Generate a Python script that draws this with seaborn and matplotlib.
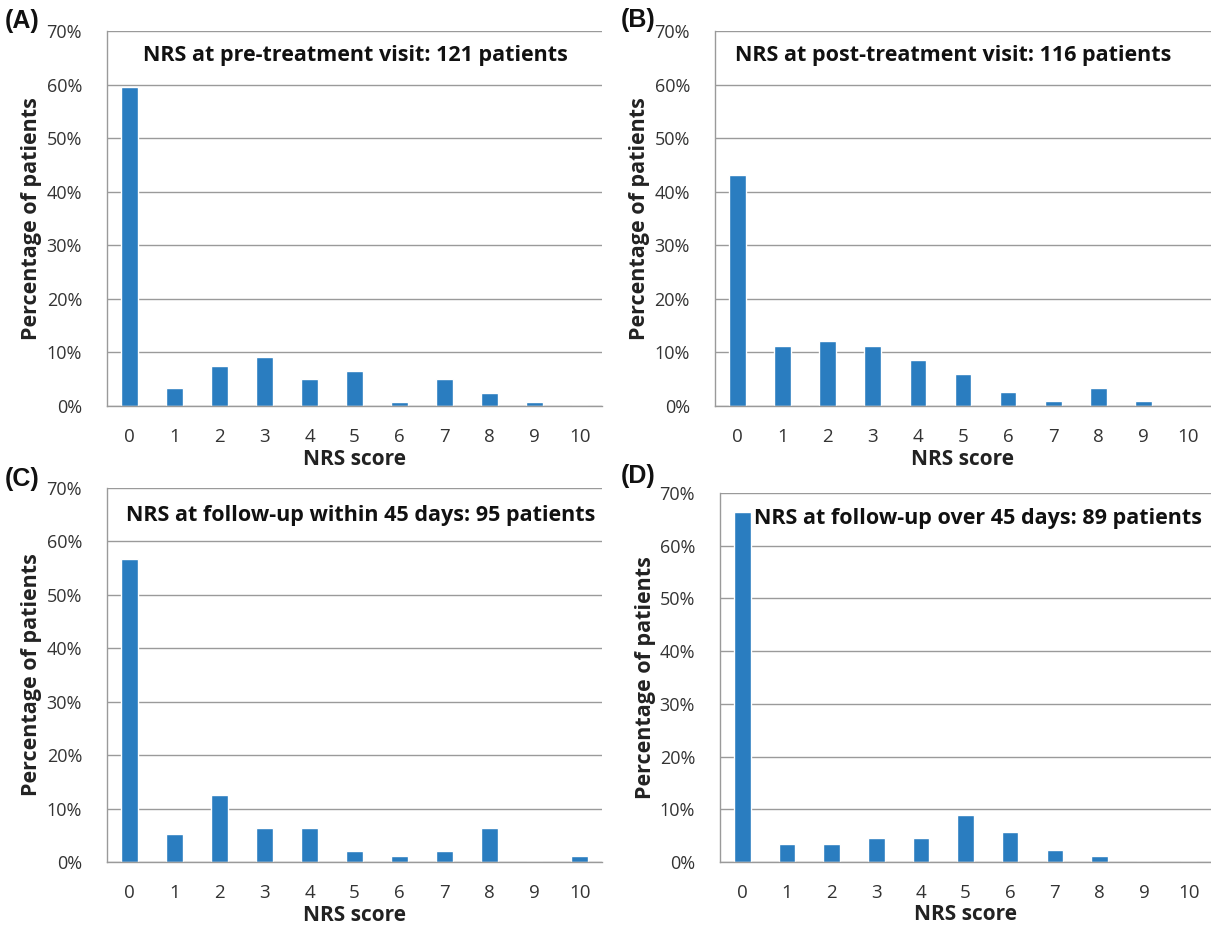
import matplotlib.pyplot as plt
import pandas as pd
import seaborn as sns
from matplotlib.ticker import PercentFormatter

# NRS scores and percentage of patients at each visit
scores = list(range(11))
pre_treatment = [59.5, 3.3, 7.4, 9.1, 5.0, 6.6, 0.8, 5.0, 2.5, 0.8, 0.0]
post_treatment = [43.1, 11.2, 12.1, 11.2, 8.6, 6.0, 2.6, 0.9, 3.4, 0.9, 0.0]
follow_within_45 = [56.8, 5.3, 12.6, 6.3, 6.3, 2.1, 1.1, 2.1, 6.3, 0.0, 1.1]
follow_over_45 = [66.3, 3.4, 3.4, 4.5, 4.5, 9.0, 5.6, 2.2, 1.1, 0.0, 0.0]

titles = ['NRS at pre-treatment visit: 121 patients',
          'NRS at post-treatment visit: 116 patients',
          'NRS at follow-up within 45 days: 95 patients',
          'NRS at follow-up over 45 days: 89 patients']
letters = ['(A)', '(B)', '(C)', '(D)']

sns.set_style('white')
plt.rcParams['font.family'] = ['Open Sans', 'DejaVu Sans']

fig = plt.figure(figsize=(12.11, 9.30), dpi=100)

# axes boxes [left, bottom, width, height]
boxes = [[0.0884, 0.5634, 0.4088, 0.4032],
         [0.5904, 0.5634, 0.4096, 0.4032],
         [0.0884, 0.0731, 0.4088, 0.4022],
         [0.5946, 0.0731, 0.4054, 0.3968]]
title_pos = [(0.502, 0.936), (0.48, 0.936), (0.513, 0.927), (0.526, 0.932)]
letter_pos = [(0.004, 0.977), (0.513, 0.979), (0.004, 0.485), (0.513, 0.488)]

series = [pre_treatment, post_treatment, follow_within_45, follow_over_45]
grid_col = '#9a9a9a'

for i, vals in enumerate(series):
    ax = fig.add_axes(boxes[i])
    df = pd.DataFrame({'score': scores, 'pct': vals})
    sns.barplot(data=df, x='score', y='pct', order=scores, color='#2a7dc0',
                saturation=1, width=0.37, ax=ax)

    ax.set_xlim(-0.5, 10.5)
    ax.set_ylim(0, 70)
    ax.set_yticks(range(0, 71, 10))
    ax.yaxis.set_major_formatter(PercentFormatter(decimals=0))
    ax.set_xticks(scores)
    ax.set_xticks([s - 0.5 for s in scores] + [10.5], minor=True)
    ax.tick_params(axis='x', which='major', length=0, pad=16, labelsize=13.5, labelcolor='#333333')
    ax.tick_params(axis='x', which='minor', length=6, width=1, color=grid_col, direction='out')
    ax.tick_params(axis='y', length=6, width=1, color=grid_col, labelsize=13, labelcolor='#333333', pad=12)

    ax.grid(axis='y', color=grid_col, linewidth=1)
    ax.set_axisbelow(True)
    for side in ['top', 'right']:
        ax.spines[side].set_visible(False)
    for side in ['left', 'bottom']:
        ax.spines[side].set_color(grid_col)
        ax.spines[side].set_linewidth(1)

    ax.set_xlabel('NRS score', fontsize=15, fontweight='bold', color='#222222')
    ax.set_ylabel('Percentage of patients', fontsize=15.5, fontweight='bold', color='#222222')
    ax.xaxis.set_label_coords(0.5, -0.114)
    ax.yaxis.set_label_coords(-0.131, 0.5)

    ax.text(title_pos[i][0], title_pos[i][1], titles[i], transform=ax.transAxes,
            ha='center', va='center', fontsize=15.5, fontweight='bold', color='#111111')
    fig.text(letter_pos[i][0], letter_pos[i][1], letters[i], ha='left', va='center',
             fontsize=18, fontweight='bold', color='#111111', family='Liberation Sans')

plt.savefig('out.png', dpi=100)
